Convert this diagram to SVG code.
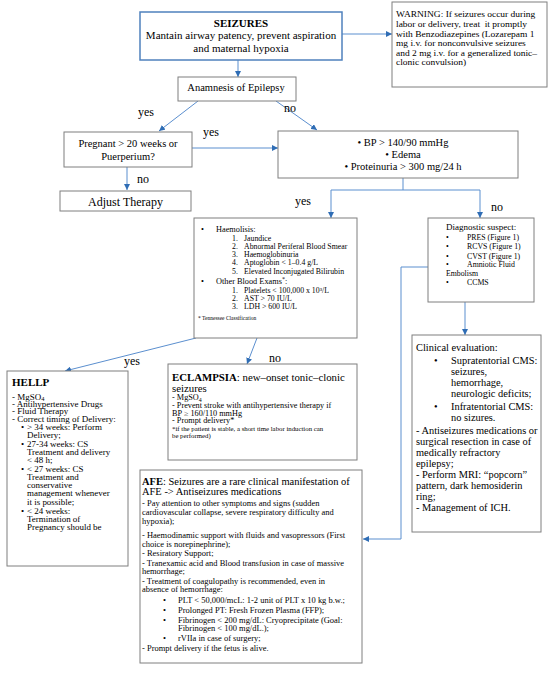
<svg xmlns="http://www.w3.org/2000/svg" width="550" height="674" viewBox="0 0 550 674">
<defs>
<marker id="a" viewBox="0 0 6 6" refX="6" refY="3" markerWidth="6" markerHeight="6" markerUnits="userSpaceOnUse" orient="auto">
<path d="M0,0 L6,3 L0,6 z" fill="#2f6db5"/>
</marker>
</defs>
<style>
text{font-family:"Liberation Serif","Times New Roman",serif;fill:#000}
.box{fill:#fff;stroke:#7f7f7f;stroke-width:1}
.sz{fill:#fff;stroke:#4f81bd;stroke-width:1.5}
.c{fill:none;stroke:#5b8fcf;stroke-width:1;marker-end:url(#a)}
.l{fill:none;stroke:#5b8fcf;stroke-width:1}
.lab{font-size:12px}
.mid{text-anchor:middle}
.b{font-weight:bold}
</style>
<rect width="550" height="674" fill="#fff"/>

<g id="connectors">
<line class="c" x1="238" y1="60" x2="238" y2="77"/>
<line class="c" x1="342" y1="34" x2="392" y2="34"/>
<line class="c" x1="198" y1="101" x2="159" y2="131"/>
<line class="c" x1="276" y1="101" x2="317" y2="130"/>
<line class="c" x1="192" y1="148" x2="278" y2="148"/>
<line class="c" x1="127" y1="167" x2="127" y2="190"/>
<polyline class="l" points="403,178 403,190"/>
<polyline class="c" points="403,190 331,190 331,218"/>
<polyline class="c" points="403,190 480,190 480,218"/>
<line class="c" x1="196" y1="338" x2="65" y2="371"/>
<line class="c" x1="257" y1="338" x2="247" y2="364"/>
<polyline class="c" points="440,267 401,267 401,539 363,539"/>
<line class="c" x1="465" y1="289" x2="465" y2="335"/>
<text class="lab" x="146" y="116" text-anchor="middle">yes</text>
<text class="lab" x="290" y="112" text-anchor="middle">no</text>
<text class="lab" x="211" y="136" text-anchor="middle">yes</text>
<text class="lab" x="143" y="183" text-anchor="middle">no</text>
<text class="lab" x="303" y="205" text-anchor="middle">yes</text>
<text class="lab" x="497" y="211" text-anchor="middle">no</text>
<text class="lab" x="132" y="365" text-anchor="middle">yes</text>
<text class="lab" x="275" y="362" text-anchor="middle">no</text>
</g>

<g id="seizures">
<rect class="sz" x="140" y="12" width="202" height="48"/>
<g transform="translate(241,0) scale(1.04,1)" font-size="10.6">
<text class="mid b" x="0" y="27">SEIZURES</text>
<text class="mid" x="0" y="39.5">Mantain airway patency, prevent aspiration</text>
<text class="mid" x="0" y="52">and maternal hypoxia</text>
</g>
</g>

<g id="warning">
<rect class="box" x="392" y="2" width="155" height="85"/>
<g transform="translate(396,0) scale(1.03,1)" font-size="9.2">
<text x="0" y="17">WARNING: If seizures occur during</text>
<text x="0" y="26.8" style="white-space:pre">labor or delivery, treat  it promptly</text>
<text x="0" y="36.6">with Benzodiazepines (Lozarepam 1</text>
<text x="0" y="46.2">mg i.v. for nonconvulsive seizures</text>
<text x="0" y="55.8">and 2 mg i.v. for a generalized tonic–</text>
<text x="0" y="65.4">clonic convulsion)</text>
</g>
</g>

<g id="anamnesis">
<rect class="box" x="178" y="77" width="118" height="24"/>
<text class="mid" x="236" y="90.5" font-size="10.5">Anamnesis of Epilepsy</text>
</g>

<g id="pregnant" font-size="10.5">
<rect class="box" x="64" y="132" width="128" height="35"/>
<text class="mid" x="128" y="146.5">Pregnant &gt; 20 weeks or</text>
<text class="mid" x="128" y="159.5">Puerperium?</text>
</g>

<g id="adjust">
<rect class="box" x="60" y="191" width="131" height="20"/>
<text class="mid" x="125.5" y="206" font-size="12">Adjust Therapy</text>
</g>

<g id="bp" font-size="10.5">
<rect class="box" x="278" y="131" width="240" height="47"/>
<text class="mid" x="403" y="145.5">• BP &gt; 140/90 mmHg</text>
<text class="mid" x="403" y="157.8">• Edema</text>
<text class="mid" x="403" y="170.3">• Proteinuria &gt; 300 mg/24 h</text>
</g>

<g id="haemolisis">
<rect class="box" x="194" y="218" width="163" height="120"/>
<g font-size="8.3">
<text x="201" y="232">•</text><text x="216" y="232">Haemolisis:</text>
<text x="201" y="284">•</text><text x="216" y="284">Other Blood Exams<tspan font-size="6" dy="-3">*</tspan><tspan dy="3">:</tspan></text>
</g>
<g font-size="7.8">
<text x="232" y="240.6">1.</text><text x="244" y="240.6">Jaundice</text>
<text x="232" y="248.6">2.</text><text x="244" y="248.6">Abnormal Periferal Blood Smear</text>
<text x="232" y="256.6">3.</text><text x="244" y="256.6">Haemoglobinuria</text>
<text x="232" y="265.2">4.</text><text x="244" y="265.2">Aptoglobin &lt; 1–0.4 g/L</text>
<text x="232" y="274">5.</text><text x="244" y="274">Elevated Inconjugated Bilirubin</text>
<text x="232" y="292.6">1.</text><text x="244" y="292.6">Platelets &lt; 100,000 x 10³/L</text>
<text x="232" y="300.6">2.</text><text x="244" y="300.6">AST &gt; 70 IU/L</text>
<text x="232" y="308.6">3.</text><text x="244" y="308.6">LDH &gt; 600 IU/L</text>
</g>
<text x="198" y="320" font-size="5.5">* Tennessee Classification</text>
</g>

<g id="diagnostic">
<rect class="box" x="428" y="218" width="106" height="84" stroke="#595959"/>
<text x="446" y="230" font-size="9">Diagnostic suspect:</text>
<g font-size="7.8">
<text x="446" y="239.7">•</text><text x="467" y="239.7">PRES (Figure 1)</text>
<text x="446" y="249.3">•</text><text x="467" y="249.3">RCVS (Figure 1)</text>
<text x="446" y="258.5">•</text><text x="467" y="258.5">CVST (Figure 1)</text>
<text x="446" y="267.3">•</text><text x="467" y="267.3">Amniotic Fluid</text>
<text x="446" y="275.5">Embolism</text>
<text x="446" y="284.7">•</text><text x="467" y="284.7">CCMS</text>
</g>
</g>

<g id="hellp">
<rect class="box" x="7" y="371" width="121" height="195"/>
<text class="b" x="12" y="386" font-size="11">HELLP</text>
<g transform="translate(12,0) scale(1.25,1)" font-size="7.2">
<text x="0" y="399.7">- MgSO<tspan font-size="5.2" dy="1.3">4</tspan></text>
<text x="0" y="407">- Antihypertensive Drugs</text>
<text x="0" y="414.3">- Fluid Therapy</text>
<text x="0" y="421.6">- Correct timing of Delivery:</text>
</g>
<g transform="translate(21,0) scale(1.15,1)" font-size="7.8">
<text x="0" y="429.7">•</text><text x="5.2" y="429.7">&gt; 34 weeks: Perform</text>
<text x="5.2" y="438">Delivery;</text>
<text x="0" y="447">•</text><text x="5.2" y="447">27-34 weeks: CS</text>
<text x="5.2" y="455">Treatment and delivery</text>
<text x="5.2" y="463">&lt; 48 h;</text>
<text x="0" y="472">•</text><text x="5.2" y="472">&lt; 27 weeks: CS</text>
<text x="5.2" y="480">Treatment and</text>
<text x="5.2" y="488">conservative</text>
<text x="5.2" y="496.3">management whenever</text>
<text x="5.2" y="504.7">it is possible;</text>
<text x="0" y="513.7">•</text><text x="5.2" y="513.7">&lt; 24 weeks:</text>
<text x="5.2" y="521.7">Termination of</text>
<text x="5.2" y="529.7">Pregnancy should be</text>
</g>
</g>

<g id="eclampsia">
<rect class="box" x="168" y="364" width="189" height="96"/>
<g transform="translate(172,0) scale(1.05,1)" font-size="10.3">
<text x="0" y="381"><tspan class="b">ECLAMPSIA</tspan>: new–onset tonic–clonic</text>
<text x="0" y="392.5">seizures</text>
</g>
<g transform="translate(172,0) scale(1.1,1)" font-size="7.5">
<text x="0" y="400.3">- MgSO<tspan font-size="5.4" dy="1.3">4</tspan></text>
<text x="0" y="408">- Prevent stroke with antihypertensive therapy if</text>
<text x="0" y="415.7">BP ≥ 160/110 mmHg</text>
<text x="0" y="423.3">- Prompt delivery*</text>
</g>
<text x="172" y="430.6" font-size="6.8">*if the patient is stable, a short time labor induction can</text>
<text x="172" y="437.8" font-size="6.8">be performed)</text>
</g>

<g id="clinical" font-size="10.4">
<rect class="box" x="412" y="335" width="129" height="197"/>
<text x="416" y="350.5">Clinical evaluation:</text>
<text x="434" y="363.5">•</text><text x="451" y="363.5">Supratentorial CMS:</text>
<text x="451" y="374.5">seizures,</text>
<text x="451" y="385.5">hemorrhage,</text>
<text x="451" y="396.5">neurologic deficits;</text>
<text x="434" y="409.5">•</text><text x="451" y="409.5">Infratentorial CMS:</text>
<text x="451" y="420.5">no sizures.</text>
<text x="416" y="433.5">- Antiseizures medications or</text>
<text x="416" y="444.5">surgical resection in case of</text>
<text x="416" y="455.5">medically refractory</text>
<text x="416" y="466.5">epilepsy;</text>
<text x="416" y="477.5">- Perform MRI: “popcorn”</text>
<text x="416" y="488.5">pattern, dark hemosiderin</text>
<text x="416" y="499.5">ring;</text>
<text x="416" y="510.5">- Management of ICH.</text>
</g>

<g id="afe">
<rect class="box" x="140" y="470" width="222" height="193"/>
<g transform="translate(142,0) scale(1.07,1)" font-size="9.8">
<text x="0" y="485.3"><tspan class="b">AFE</tspan>: Seizures are a rare clinical manifestation of</text>
<text x="0" y="495.3">AFE -&gt; Antiseizures medications</text>
</g>
<g transform="translate(142,0) scale(1.06,1)" font-size="8">
<text x="0" y="506.2">- Pay attention to other symptoms and signs (sudden</text>
<text x="0" y="514.6">cardiovascular collapse, severe respiratory difficulty and</text>
<text x="0" y="524.3">hypoxia);</text>
<text x="0" y="537.8">- Haemodinamic support with fluids and vasopressors (First</text>
<text x="0" y="546.8">choice is norepinephrine);</text>
<text x="0" y="555.6">- Resiratory Support;</text>
<text x="0" y="565.6">- Tranexamic acid and Blood transfusion in case of massive</text>
<text x="0" y="573.7">hemorrhage;</text>
<text x="0" y="583.6">- Treatment of coagulopathy is recommended, even in</text>
<text x="0" y="592.2">absence of hemorrhage:</text>
<text x="19.8" y="602.8">•</text><text x="34" y="602.8">PLT &lt; 50,000/mcL: 1-2 unit of PLT x 10 kg b.w.;</text>
<text x="19.8" y="612.8">•</text><text x="34" y="612.8">Prolonged PT: Fresh Frozen Plasma (FFP);</text>
<text x="19.8" y="622.8">•</text><text x="34" y="622.8">Fibrinogen &lt; 200 mg/dL: Cryoprecipitate (Goal:</text>
<text x="34" y="631.2">Fibrinogen &lt; 100 mg/dL.);</text>
<text x="19.8" y="641.2">•</text><text x="34" y="641.2">rVIIa in case of surgery;</text>
<text x="0" y="650.6">- Prompt delivery if the fetus is alive.</text>
</g>
</g>
</svg>
